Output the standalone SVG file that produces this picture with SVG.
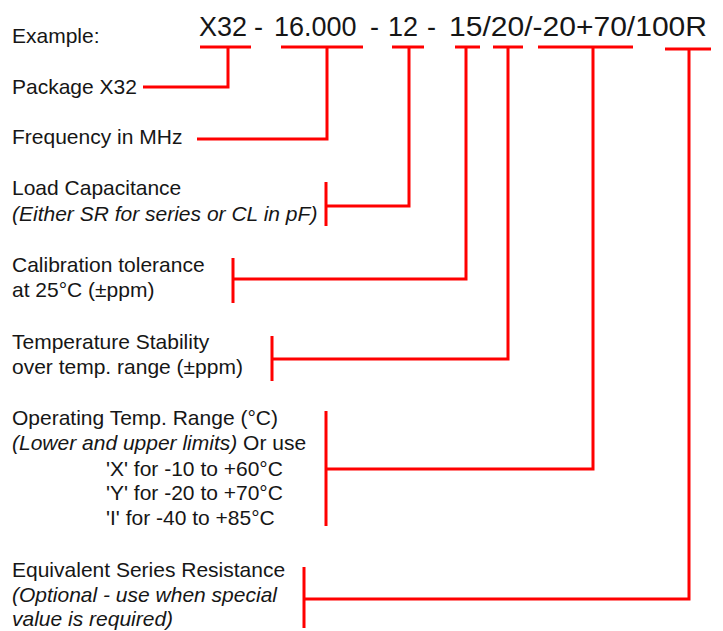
<svg xmlns="http://www.w3.org/2000/svg" width="723" height="631" viewBox="0 0 723 631">
<style>
text{font-family:"Liberation Sans",Arial,sans-serif;fill:#161616}
.lbl{font-size:21px}
.code{font-size:27px}
.it{font-style:italic}
.ln{fill:none;stroke:#ff0000;stroke-width:3;stroke-linecap:butt;stroke-linejoin:miter}
</style>
<rect width="723" height="631" fill="#ffffff"/>
<g id="example">
<text class="lbl" x="12" y="43">Example:</text>
<text class="code" y="36"><tspan x="199">X32</tspan><tspan x="254">-</tspan><tspan x="274">16.000</tspan><tspan x="370">-</tspan><tspan x="388">12</tspan><tspan x="427">-</tspan><tspan x="449" textLength="258" lengthAdjust="spacingAndGlyphs">15/20/-20+70/100R</tspan></text>
</g>
<g id="package"><text class="lbl" x="12" y="94">Package X32</text></g>
<g id="frequency"><text class="lbl" x="12" y="144">Frequency in MHz</text></g>
<g id="load"><text class="lbl" x="12" y="195">Load Capacitance</text><text class="lbl it" x="12" y="221">(Either SR for series or CL in pF)</text></g>
<g id="calibration"><text class="lbl" x="12" y="272">Calibration tolerance</text><text class="lbl" x="12" y="297">at 25°C (±ppm)</text></g>
<g id="stability"><text class="lbl" x="12" y="349">Temperature Stability</text><text class="lbl" x="12" y="374">over temp. range (±ppm)</text></g>
<g id="optemp">
<text class="lbl" x="12" y="425">Operating Temp. Range (°C)</text>
<text class="lbl" x="12" y="450"><tspan class="it">(Lower and upper limits)</tspan> Or use</text>
<text class="lbl" x="106" y="476">'X' for -10 to +60°C</text>
<text class="lbl" x="106" y="500">'Y' for -20 to +70°C</text>
<text class="lbl" x="106" y="525">'I' for -40 to +85°C</text>
</g>
<g id="esr">
<text class="lbl" x="12" y="577">Equivalent Series Resistance</text>
<text class="lbl it" x="12" y="602">(Optional - use when special</text>
<text class="lbl it" x="12" y="626">value is required)</text>
</g>
<g id="connectors">
<path class="ln" d="M200 47H251M228 47V87H143"/>
<path class="ln" d="M281 47H363M327 47V139H197"/>
<path class="ln" d="M392 47H424M409 47V206H326M326 182V226"/>
<path class="ln" d="M455 47H480M466 47V279H233M233 258V303"/>
<path class="ln" d="M493 47H523M508 47V359H272M272 336V381"/>
<path class="ln" d="M538 47H633M593 47V469H326M326 411V526"/>
<path class="ln" d="M665 49H711M689 49V599H304M304 567V628"/>
</g>
</svg>
